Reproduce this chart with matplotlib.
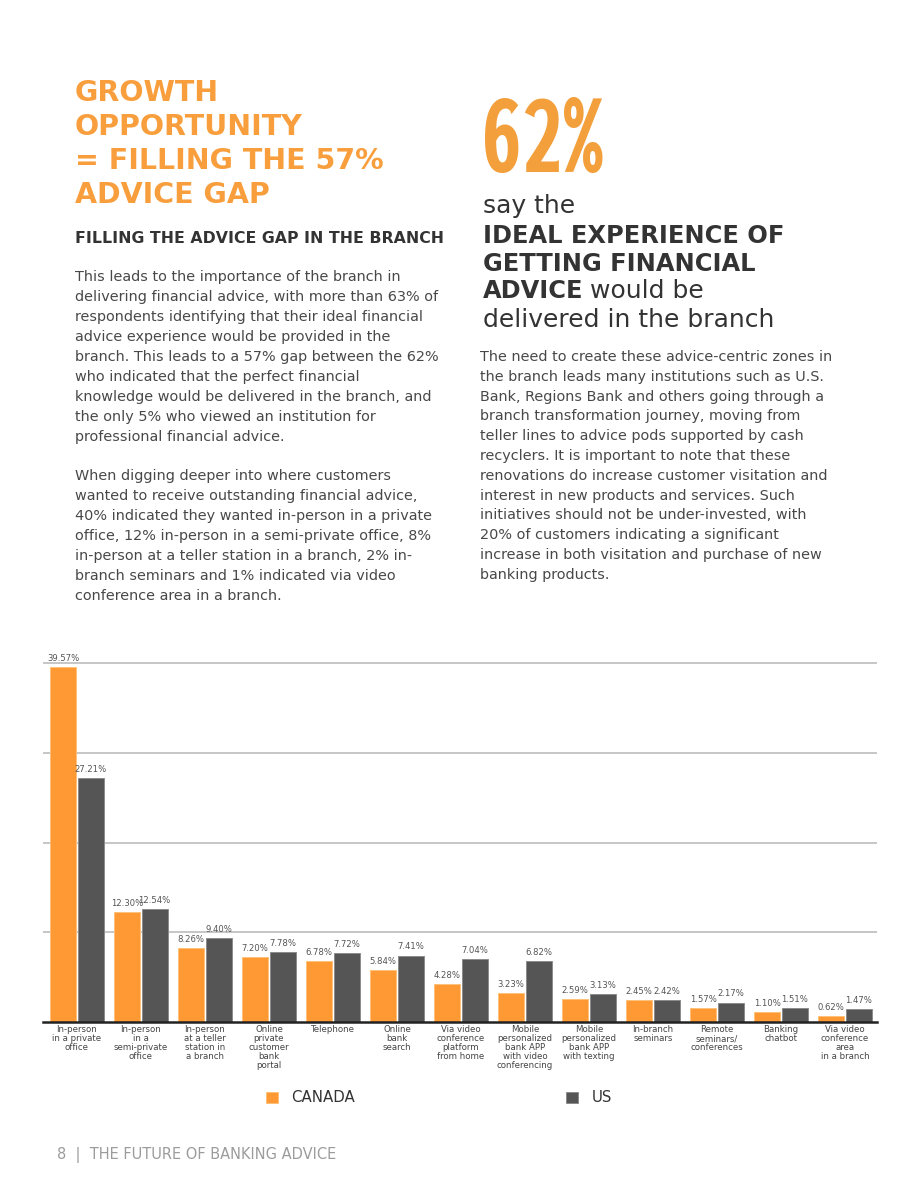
import numpy as np
import matplotlib
matplotlib.use("Agg")
import matplotlib.pyplot as plt
from matplotlib import font_manager as fm

# ---------------- data ----------------
categories = [
    "In-person\nin a private\noffice",
    "In-person\nin a\nsemi-private\noffice",
    "In-person\nat a teller\nstation in\na branch",
    "Online\nprivate\ncustomer\nbank\nportal",
    "Telephone",
    "Online\nbank\nsearch",
    "Via video\nconference\nplatform\nfrom home",
    "Mobile\npersonalized\nbank APP\nwith video\nconferencing",
    "Mobile\npersonalized\nbank APP\nwith texting",
    "In-branch\nseminars",
    "Remote\nseminars/\nconferences",
    "Banking\nchatbot",
    "Via video\nconference\narea\nin a branch",
]
canada = [39.57, 12.30, 8.26, 7.20, 6.78, 5.84, 4.28, 3.23, 2.59, 2.45, 1.57, 1.10, 0.62]
us = [27.21, 12.54, 9.40, 7.78, 7.72, 7.41, 7.04, 6.82, 3.13, 2.42, 2.17, 1.51, 1.47]
series_names = ["CANADA", "US"]

title_lines = ["GROWTH", "OPPORTUNITY", "= FILLING THE 57%", "ADVICE GAP"]
subhead = "FILLING THE ADVICE GAP IN THE BRANCH"
left_par1 = [
    "This leads to the importance of the branch in",
    "delivering financial advice, with more than 63% of",
    "respondents identifying that their ideal financial",
    "advice experience would be provided in the",
    "branch. This leads to a 57% gap between the 62%",
    "who indicated that the perfect financial",
    "knowledge would be delivered in the branch, and",
    "the only 5% who viewed an institution for",
    "professional financial advice.",
]
left_par2 = [
    "When digging deeper into where customers",
    "wanted to receive outstanding financial advice,",
    "40% indicated they wanted in-person in a private",
    "office, 12% in-person in a semi-private office, 8%",
    "in-person at a teller station in a branch, 2% in-",
    "branch seminars and 1% indicated via video",
    "conference area in a branch.",
]
right_par = [
    "The need to create these advice-centric zones in",
    "the branch leads many institutions such as U.S.",
    "Bank, Regions Bank and others going through a",
    "branch transformation journey, moving from",
    "teller lines to advice pods supported by cash",
    "recyclers. It is important to note that these",
    "renovations do increase customer visitation and",
    "interest in new products and services. Such",
    "initiatives should not be under-invested, with",
    "20% of customers indicating a significant",
    "increase in both visitation and purchase of new",
    "banking products.",
]
big_stat = "62%"
footer = "8  |  THE FUTURE OF BANKING ADVICE"

# ---------------- style ----------------
ORANGE = "#FF9933"
TITLE_ORANGE = "#F99E3C"
GRAY = "#555555"
DARK = "#333333"
BODY = "#484848"

W, H = 920, 1191
fig = plt.figure(figsize=(W / 100, H / 100), dpi=100)
fig.patch.set_facecolor("white")


def ft(x, y, s, **kw):
    return fig.text(x / W, 1 - y / H, s, **kw)


# condensed heavy font for the big number
def find_condensed():
    files = [f.fname for f in fm.fontManager.ttflist]
    prefs = ["ExtraCondensedExtraBold", "ExtraCondensed-ExtraBold",
             "ExtraCondensedBold", "ExtraCondensed-Bold", "CondensedBold",
             "Condensed-Bold", "Narrow-Bold", "NarrowBold"]
    for p in prefs:
        for f in files:
            name = f.split("/")[-1]
            if p in name and "Italic" not in name and "Oblique" not in name:
                return fm.FontProperties(fname=f)
    return fm.FontProperties(family="DejaVu Sans", weight="bold")


big_fp = find_condensed()
big_fp.set_size(84)

# ---------------- text blocks ----------------
for i, line in enumerate(title_lines):
    ft(75, 101 + 34 * i, line, fontsize=20.5, fontweight="bold",
       color=TITLE_ORANGE, va="baseline", ha="left")

ft(75, 243, subhead, fontsize=11.35, fontweight="bold", color=DARK,
   va="baseline", ha="left")

BODY_FS = 10.4
for i, line in enumerate(left_par1):
    ft(75, 281 + 19.95 * i, line, fontsize=BODY_FS, color=BODY, va="baseline")
for i, line in enumerate(left_par2):
    ft(75, 480.5 + 19.95 * i, line, fontsize=BODY_FS, color=BODY, va="baseline")

ft(481, 172, big_stat, fontproperties=big_fp, color="#F3A03C", va="baseline")

HL_REG = 18
HL_BOLD = 17.4
ft(483, 213, "say the", fontsize=HL_REG, color=DARK, va="baseline")
ft(483, 243, "IDEAL EXPERIENCE OF", fontsize=HL_BOLD, fontweight="bold",
   color=DARK, va="baseline")
ft(483, 271, "GETTING FINANCIAL", fontsize=HL_BOLD, fontweight="bold",
   color=DARK, va="baseline")
t_adv = ft(483, 298, "ADVICE", fontsize=HL_BOLD, fontweight="bold",
           color=DARK, va="baseline")
ann = matplotlib.text.Annotation("would be", xy=(1, 0), xycoords=t_adv,
                                 xytext=(5, 0), textcoords="offset points",
                                 fontsize=HL_REG, color=DARK, va="bottom", ha="left")
fig.add_artist(ann)
ft(483, 327, "delivered in the branch", fontsize=HL_REG, color=DARK, va="baseline")

for i, line in enumerate(right_par):
    ft(480, 361 + 19.8 * i, line, fontsize=BODY_FS, color=BODY, va="baseline")

ft(57, 1159, footer, fontsize=10.5, color="#9C9C9C", va="baseline")

# ---------------- chart ----------------
ymax = 40.2
px_per_unit = (1022 - 667) / 39.57
top_px = 1022 - ymax * px_per_unit
ax = fig.add_axes([43 / W, 1 - 1022 / H, (877 - 43) / W, (1022 - top_px) / H])

x = np.arange(len(categories))
bw = 0.41
off = 0.215
b1 = ax.bar(x - off, canada, bw, color=ORANGE, edgecolor="#FFC07A",
            linewidth=0.7, zorder=3, label=series_names[0])
b2 = ax.bar(x + off, us, bw, color=GRAY, edgecolor="#8C8C8C",
            linewidth=0.7, zorder=3, label=series_names[1])

for xi, v in zip(x - off, canada):
    ax.text(xi, v + 0.45, f"{v:.2f}%", ha="center", va="bottom",
            fontsize=6.1, color="#555555", zorder=4)
for xi, v in zip(x + off, us):
    ax.text(xi, v + 0.45, f"{v:.2f}%", ha="center", va="bottom",
            fontsize=6.1, color="#555555", zorder=4)

ax.set_xlim(-0.53, len(categories) - 0.5)
ax.set_ylim(0, ymax)
ax.set_yticks([10, 20, 30, 40])
ax.yaxis.grid(True, color="#C6C6C6", linewidth=1.4, zorder=0)
ax.tick_params(axis="y", length=0, labelleft=False)
ax.set_xticks(x)
ax.set_xticklabels(categories, fontsize=6.2, color="#444444", linespacing=1.0)
ax.tick_params(axis="x", length=0, pad=2.5)
for s in ["top", "left", "right"]:
    ax.spines[s].set_visible(False)
ax.spines["bottom"].set_color("#222222")
ax.spines["bottom"].set_linewidth(1.8)
ax.spines["bottom"].set_zorder(5)
ax.set_facecolor("none")

leg = ax.legend(handles=[b1, b2], labels=series_names, loc="center",
                bbox_to_anchor=(439 / W, 1 - 1098 / H),
                bbox_transform=fig.transFigure, ncol=2, frameon=False,
                fontsize=10.8, handlelength=0.8, handleheight=0.8,
                handletextpad=0.9, columnspacing=14.1)
for t in leg.get_texts():
    t.set_color("#333333")

fig.savefig("out.png", dpi=100, facecolor="white")
